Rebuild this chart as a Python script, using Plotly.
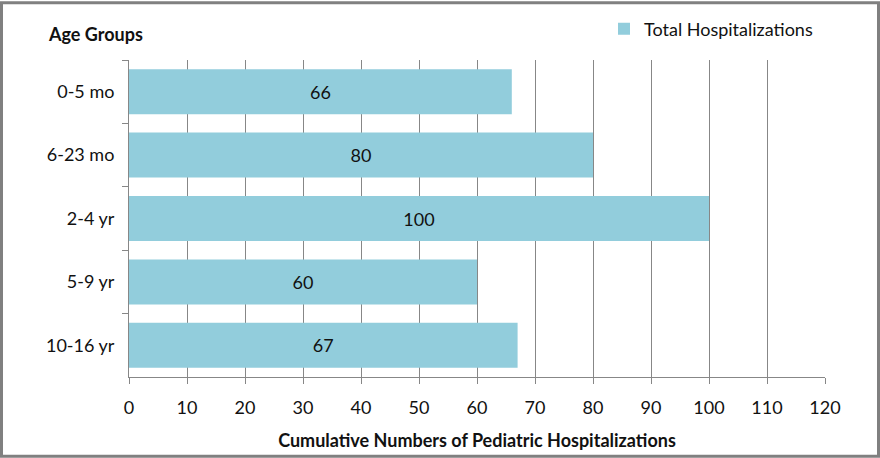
import plotly.graph_objects as go

categories = ["0-5 mo", "6-23 mo", "2-4 yr", "5-9 yr", "10-16 yr"]
values = [66, 80, 100, 60, 67]
series_name = "Total Hospitalizations"
x_ticks = list(range(0, 121, 10))

W, H = 880, 458
L, R, T, B = 129, 55, 59, 81
pw, ph = W - L - R, H - T - B

font = "Lato, Open Sans, sans-serif"
fs = 18
grid = "#878787"

fig = go.Figure()
fig.add_trace(go.Bar(
    y=categories, x=values, orientation="h", name=series_name,
    marker=dict(color="#92CDDC", line=dict(width=0)),
    text=values, textposition="inside", insidetextanchor="middle",
    textfont=dict(color="#111111", size=fs, family=font),
    showlegend=True,
))

fig.update_layout(
    width=W, height=H,
    margin=dict(l=L, r=R, t=T, b=B),
    paper_bgcolor="white", plot_bgcolor="white",
    font=dict(family=font, size=fs, color="#111111"),
    bargap=0.29,
    showlegend=True,
    legend=dict(x=(604 - L) / pw, y=1 + (T - 29) / ph, xanchor="left", yanchor="middle",
                font=dict(size=fs, family=font), bgcolor="rgba(0,0,0,0)",
                itemwidth=30),
    xaxis=dict(range=[0, 120], tickvals=x_ticks, showgrid=True, gridcolor=grid,
               gridwidth=1, showline=True, linecolor=grid, ticks="outside",
               ticklen=6, tickcolor=grid, zeroline=False, ticklabelstandoff=8,
               tickfont=dict(size=fs), fixedrange=True,
               title=dict(text="<b>Cumulative Numbers of Pediatric Hospitalizations</b>",
                          font=dict(size=fs), standoff=17)),
    yaxis=dict(autorange="reversed", showline=True, linecolor=grid,
               ticks="outside", ticklen=6, tickcolor=grid, tickson="boundaries",
               showgrid=False, tickfont=dict(size=fs), ticklabelstandoff=10,
               fixedrange=True),
    annotations=[dict(text="<b>Age Groups</b>", xref="paper", yref="paper",
                      x=(46 - L) / pw, y=1 + (T - 33) / ph, xanchor="left",
                      yanchor="middle", showarrow=False, font=dict(size=fs))],
    shapes=[dict(type="rect", xref="paper", yref="paper",
                 x0=(1.5 - L) / pw, x1=(W - 1.5 - L) / pw,
                 y0=-(B - 1.5) / ph, y1=1 + (T - 1.5) / ph,
                 line=dict(color="#808080", width=3), layer="above")],
)

fig.write_html("out.html", config={"displayModeBar": False},
               post_script="document.body.style.margin='0';document.body.style.padding='0';document.documentElement.style.margin='0';")
